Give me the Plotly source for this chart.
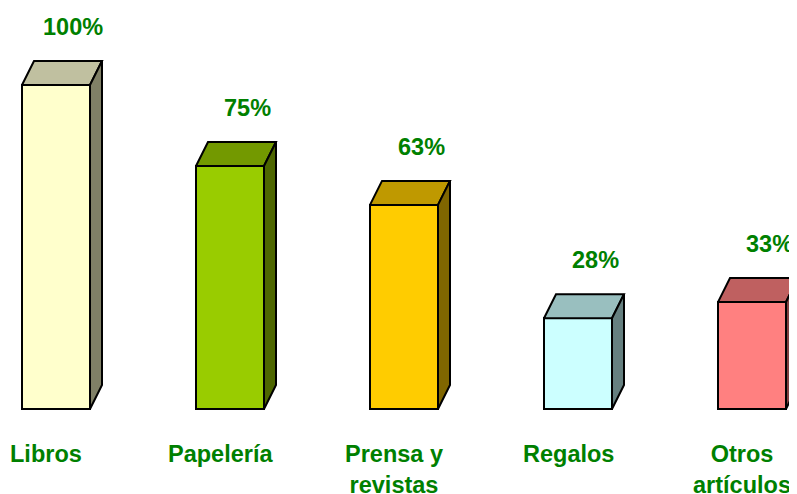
import plotly.graph_objects as go

categories = ["Libros", "Papelería", "Prensa y<br>revistas", "Regalos", "Otros<br>artículos"]
values = [100, 75, 63, 28, 33]
value_labels = ["100%", "75%", "63%", "28%", "33%"]
front_colors = ["#FFFFCC", "#99CC00", "#FFCC00", "#CCFFFF", "#FF8080"]
top_colors = ["#C0C0A0", "#739900", "#BF9900", "#99BFBF", "#BF6060"]
side_colors = ["#808066", "#4D6600", "#806600", "#668080", "#804040"]

# page body has an 8px margin, so the figure is drawn 8px in from the top-left
OFF = 8
W, H = 797 - OFF, 494 - OFF
px_per_cat = 174.0
first_center_px = 56.0 - OFF
base_px = 409.0 - OFF
px_per_unit = 3.24
bar_w_px = 68.0
depth_dx_px = 12.0
depth_dy_px = 24.0

x0 = -first_center_px / px_per_cat
x1 = (W - first_center_px) / px_per_cat
y0 = -(H - base_px) / px_per_unit
y1 = base_px / px_per_unit

bw = bar_w_px / px_per_cat
dx = depth_dx_px / px_per_cat
dy = depth_dy_px / px_per_unit

fig = go.Figure()
xs = list(range(len(categories)))

fig.add_trace(go.Bar(
    x=xs, y=values, width=bw,
    marker=dict(color=front_colors, line=dict(color="black", width=2)),
    showlegend=False, hoverinfo="skip",
))

for i, v in enumerate(values):
    l = i - bw / 2
    r = i + bw / 2
    # top face
    fig.add_trace(go.Scatter(
        x=[l, l + dx, r + dx, r, l], y=[v, v + dy, v + dy, v, v],
        mode="lines", fill="toself", fillcolor=top_colors[i],
        line=dict(color="black", width=2), showlegend=False, hoverinfo="skip",
    ))
    # side face
    fig.add_trace(go.Scatter(
        x=[r, r + dx, r + dx, r, r], y=[0, dy, v + dy, v, 0],
        mode="lines", fill="toself", fillcolor=side_colors[i],
        line=dict(color="black", width=2), showlegend=False, hoverinfo="skip",
    ))
    fig.add_annotation(
        x=i + 17 / px_per_cat, y=v + dy, text=value_labels[i], showarrow=False,
        xref="x", yref="y", yanchor="middle", yshift=34,
        font=dict(family="Liberation Sans, Arial", size=23.5, color="#008000", weight="bold"),
    )
    fig.add_annotation(
        x=i - 10 / px_per_cat, y=0, text=categories[i], showarrow=False,
        xref="x", yref="y", yanchor="top", yshift=-30,
        font=dict(family="Liberation Sans, Arial", size=23.5, color="#008000", weight="bold"),
    )

fig.update_layout(
    width=W, height=H,
    margin=dict(l=0, r=0, t=0, b=0),
    paper_bgcolor="white", plot_bgcolor="white",
    xaxis=dict(range=[x0, x1], visible=False, fixedrange=True),
    yaxis=dict(range=[y0, y1], visible=False, fixedrange=True),
    bargap=0,
)

fig.write_html("out.html")
